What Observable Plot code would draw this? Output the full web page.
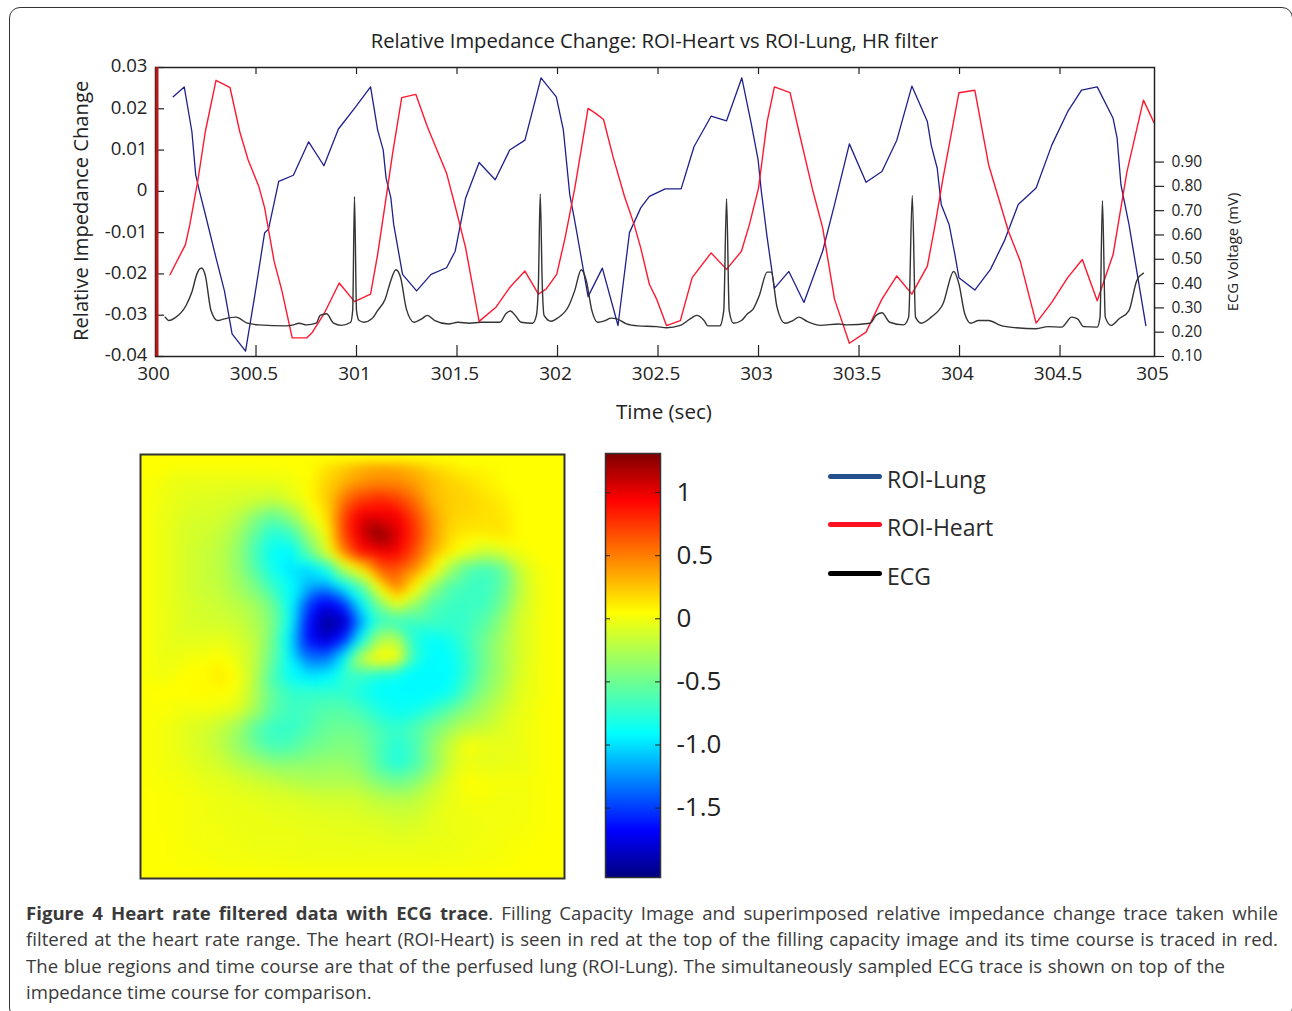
<!DOCTYPE html>
<html><head><meta charset="utf-8">
<script src="https://cdn.jsdelivr.net/npm/d3@7"></script>
<script src="https://cdn.jsdelivr.net/npm/@observablehq/plot@0.6"></script>
<style>
html,body{margin:0;padding:0;background:#fff;}
#page{position:relative;width:1292px;height:1011px;overflow:hidden;font-family:"Open Sans",sans-serif;color:#222;}
#card{position:absolute;left:9px;top:7px;width:1284px;height:1012px;border:1.5px solid #333;border-radius:11px;box-sizing:border-box;}
.abs{position:absolute;white-space:nowrap;}
#page svg{position:absolute;overflow:visible;background:transparent;}
.cap{position:absolute;left:26px;width:1252px;font-size:18.6px;line-height:26px;color:#3a3a3a;white-space:normal;}
.just{text-align:justify;text-align-last:justify;}
.leg{position:absolute;left:828px;width:54px;height:4.5px;border-radius:2.5px;}
.legt{position:absolute;left:887px;font-size:23px;line-height:26px;white-space:nowrap;color:#2a2a2a;}
</style></head><body><div id="page"><div id="card"></div></div>
<script>
// Time axis (sec), Relative Impedance Change
const lungTime=[300.088,300.143,300.181,300.200,300.219,300.248,300.301,300.343,300.381,300.448,300.495,300.543,300.562,300.613,300.686,300.762,300.838,300.910,300.990,301.070,301.105,301.133,301.147,301.171,301.185,301.229,301.299,301.371,301.448,301.491,301.543,301.610,301.690,301.762,301.838,301.918,301.994,302.029,302.061,302.086,302.152,302.223,302.301,302.358,302.414,302.457,302.536,302.615,302.679,302.764,302.841,302.917,302.965,302.998,303.014,303.043,303.079,303.151,303.226,303.319,303.378,303.452,303.535,303.614,303.688,303.763,303.840,303.859,303.889,303.909,303.948,303.977,303.997,304.076,304.154,304.223,304.292,304.381,304.459,304.538,304.607,304.685,304.764,304.784,304.803,304.843,304.927];
const lungValue=[.0229,.0253,.0145,.0040,0,-.0056,-.0161,-.0241,-.0345,-.0387,-.0249,-.0100,-.0092,.0024,.0039,.0120,.0062,.0151,.0201,.0253,.0149,.0100,.0032,-.0016,-.0080,-.0201,-.0241,-.0201,-.0185,-.0145,-.0016,.0070,.0028,.0100,.0124,.0275,.0229,.0149,-.0008,-.0072,-.0255,-.0186,-.0325,-.0100,-.0040,-.0012,.0006,.0006,.0108,.0182,.0171,.0275,.0161,.0076,0,-.0112,-.0235,-.0194,-.0269,-.0145,-.0032,.0115,.0022,.0048,.0124,.0255,.0169,.0112,.0056,-.0032,-.0080,-.0153,-.0209,-.0239,-.0189,-.0120,-.0032,.0008,.0112,.0193,.0245,.0253,.0177,.0129,.0016,-.0080,-.0325];
const heartTime=[300.072,300.149,300.171,300.210,300.248,300.301,300.333,300.371,300.419,300.461,300.514,300.543,300.590,300.629,300.680,300.752,300.781,300.838,300.914,300.990,301.070,301.105,301.152,301.181,301.225,301.295,301.352,301.448,301.491,301.543,301.610,301.695,301.762,301.838,301.905,301.943,301.996,302.038,302.086,302.152,302.190,302.229,302.276,302.333,302.381,302.414,302.457,302.493,302.542,302.611,302.670,302.764,302.841,302.915,302.955,303.000,303.043,303.079,303.157,303.201,303.269,303.319,303.378,303.452,303.535,303.614,303.688,303.763,303.840,303.879,303.918,303.997,304.076,304.145,304.194,304.243,304.302,304.381,304.459,304.538,304.611,304.685,304.764,304.833,304.915,304.967];
const heartValue=[-.0202,-.0129,-.0080,.0024,.0145,.0269,.0261,.0251,.0145,.0076,.0012,-.0040,-.0169,-.0241,-.0355,-.0355,-.0341,-.0297,-.0222,-.0267,-.0249,-.0153,0,.0096,.0227,.0235,.0157,.0044,-.0036,-.0137,-.0315,-.0280,-.0233,-.0193,-.0249,-.0237,-.0201,-.0112,.0008,.0201,.0189,.0174,.0084,-.0012,-.0080,-.0137,-.0225,-.0261,-.0325,-.0313,-.0209,-.0149,-.0189,-.0145,-.0080,.0008,.0169,.0253,.0239,.0145,.0004,-.0088,-.0261,-.0368,-.0341,-.0261,-.0205,-.0249,-.0181,-.0080,.0032,.0239,.0245,.0064,-.0016,-.0096,-.0169,-.0319,-.0269,-.0209,-.0165,-.0265,-.0153,.0048,.0221,.0167];
const ecgTime=[300.048,300.067,300.095,300.152,300.181,300.206,300.229,300.248,300.276,300.309,300.343,300.400,300.457,300.514,300.648,300.686,300.714,300.752,300.800,300.819,300.851,300.886,300.924,300.971,300.981,300.990,301.000,301.013,301.038,301.076,301.105,301.143,301.171,301.196,301.219,301.248,301.286,301.324,301.352,301.390,301.457,301.505,301.562,301.619,301.714,301.743,301.766,301.790,301.819,301.876,301.895,301.905,301.914,301.924,301.933,301.968,302.000,302.057,302.086,302.118,302.143,302.171,302.200,302.238,302.267,302.295,302.343,302.400,302.493,302.542,302.611,302.660,302.693,302.729,302.748,302.807,302.827,302.841,302.854,302.876,302.915,302.945,302.974,303.004,303.043,303.063,303.092,303.132,303.171,303.201,303.240,303.309,303.397,303.437,303.555,303.584,303.614,303.653,303.722,303.747,303.765,303.781,303.810,303.859,303.918,303.971,303.997,304.026,304.056,304.095,304.145,304.204,304.282,304.381,304.440,304.508,304.558,304.587,304.617,304.685,304.699,304.711,304.725,304.754,304.794,304.843,304.882,304.915];
const ecgVolt=[.262,.248,.258,.310,.365,.440,.464,.433,.289,.248,.255,.262,.237,.230,.226,.230,.237,.230,.237,.269,.276,.237,.228,.241,.289,.758,.289,.248,.241,.255,.289,.337,.413,.457,.426,.296,.241,.255,.269,.248,.234,.241,.237,.241,.241,.276,.287,.269,.241,.237,.269,.399,.769,.399,.269,.245,.258,.310,.372,.457,.413,.289,.241,.248,.258,.255,.234,.226,.223,.218,.228,.255,.269,.248,.226,.226,.289,.749,.289,.237,.248,.276,.296,.351,.447,.447,.303,.237,.248,.262,.245,.228,.234,.230,.237,.269,.280,.241,.230,.262,.763,.262,.237,.262,.317,.450,.399,.276,.237,.248,.248,.228,.218,.214,.223,.221,.262,.255,.223,.221,.262,.742,.262,.228,.255,.289,.413,.443];
const timeEnd=304.97;
const timeTicks=[300,300.5,301,301.5,302,302.5,303,303.5,304,304.5,timeEnd];
const timeLabels=["300","300.5","301","301.5","302","302.5","303","303.5","304","304.5","305"];
const impedanceTicks=[.03,.02,.01,0,-.01,-.02,-.03,-.04];
const impedanceLabels=["0.03","0.02","0.01","0","-0.01","-0.02","-0.03","-0.04"];
const ecgTicks=[.1,.2,.3,.4,.5,.6,.7,.8,.9];
const colorTicks=[1,.5,0,-.5,-1,-1.5];
const colorLabels=["1","0.5","0","-0.5","-1.0","-1.5"];
const jetDomain=[-2.05,-1.68,-.91,.05,.94,1.31];
const jetColors=["#00007f","#0000ff","#00ffff","#ffff00","#ff0000","#7f0000"];
// Filling capacity image, 24 x 24 samples, top row first
const capacityGrid=[
[.05,.05,.05,.05,.05,.05,.05,.05,.05,.05,.12,.2,.3,.35,.33,.25,.15,.1,.05,.05,.05,.05,.05,.05],
[.04,0,-.03,-.03,-.03,-.03,-.03,-.02,0,.05,.2,.3,.4,.45,.45,.38,.28,.2,.15,.1,.05,.05,.05,.05],
[.03,-.02,-.05,-.07,-.08,-.1,-.12,-.15,-.05,.05,.22,.52,.72,.8,.72,.55,.3,.22,.2,.15,.1,.05,.05,.05],
[.02,-.03,-.08,-.1,-.12,-.2,-.4,-.55,-.35,-.05,.15,.7,1,1,.98,.72,.4,.22,.18,.15,.14,.05,.05,.05],
[.02,-.03,-.1,-.12,-.17,-.3,-.55,-.8,-.7,-.3,.02,.7,1.05,1.3,1.05,.78,.42,.18,.12,.12,.14,.05,.05,.05],
[.02,-.03,-.1,-.15,-.2,-.35,-.65,-.9,-.95,-.55,-.1,.5,.92,.98,.95,.68,.33,.12,-.02,-.15,-.1,0,.05,.05],
[.02,-.03,-.1,-.15,-.2,-.35,-.6,-.85,-1,-1.05,-.85,-.25,.12,.6,.65,.45,.12,-.3,-.6,-.68,-.55,-.15,0,.05],
[.02,-.03,-.1,-.15,-.18,-.3,-.45,-.7,-.9,-1.15,-1.25,-.95,-.6,.05,.5,.1,-.35,-.62,-.68,-.7,-.55,-.2,0,.05],
[.02,-.03,-.08,-.12,-.15,-.2,-.3,-.5,-.9,-1.5,-1.75,-1.55,-.95,-.45,-.05,-.35,-.62,-.68,-.7,-.68,-.48,-.15,0,.05],
[.02,-.03,-.08,-.1,-.12,-.15,-.25,-.45,-.9,-1.65,-2,-1.9,-1.2,-.7,-.7,-.68,-.68,-.72,-.7,-.58,-.35,-.1,0,.05],
[.02,-.03,-.05,-.05,-.03,-.1,-.2,-.5,-1,-1.65,-1.85,-1.55,-.85,-.25,-.2,-.78,-.9,-.85,-.68,-.48,-.28,-.1,0,.05],
[.02,-.02,0,.02,.05,-.03,-.2,-.55,-.95,-1.35,-1.35,-.95,-.2,.12,.08,-.72,-.92,-.9,-.72,-.48,-.28,-.1,0,.05],
[.02,0,.05,.06,.12,.03,-.22,-.65,-.9,-1,-.95,-.75,-.72,-.82,-.85,-.92,-.92,-.92,-.72,-.45,-.28,-.08,0,.05],
[.04,.05,.05,.06,.06,0,-.25,-.55,-.72,-.72,-.72,-.72,-.82,-.92,-.92,-.92,-.92,-.85,-.6,-.38,-.22,-.05,0,.05],
[.04,.03,0,0,-.02,-.08,-.3,-.58,-.68,-.66,-.6,-.58,-.66,-.8,-.88,-.85,-.72,-.55,-.38,-.26,-.12,-.03,.02,.05],
[.03,0,-.05,-.1,-.17,-.32,-.58,-.72,-.72,-.62,-.52,-.5,-.52,-.65,-.72,-.62,-.46,-.32,-.2,-.15,-.08,-.02,.02,.05],
[.03,0,-.05,-.1,-.2,-.35,-.52,-.65,-.62,-.5,-.46,-.42,-.46,-.62,-.78,-.65,-.38,-.15,.03,-.02,-.03,-.02,.02,.05],
[.03,0,-.03,-.08,-.13,-.22,-.3,-.38,-.38,-.37,-.34,-.34,-.4,-.62,-.8,-.65,-.4,-.12,-.02,-.05,-.03,-.02,.02,.05],
[.04,.02,0,-.03,-.05,-.09,-.13,-.17,-.22,-.25,-.25,-.25,-.28,-.42,-.5,-.42,-.22,-.05,.05,.03,.02,.02,.03,.05],
[.05,.03,.02,0,-.02,-.03,-.05,-.07,-.08,-.1,-.12,-.12,-.13,-.2,-.22,-.2,-.12,-.03,.02,.02,0,0,.03,.05],
[.05,.03,.02,0,-.01,-.02,-.02,-.03,-.04,-.05,-.06,-.06,-.08,-.1,-.13,-.12,-.06,-.02,-.01,0,0,.01,.03,.05],
[.05,.04,.02,0,0,-.01,-.02,-.02,-.02,-.03,-.03,-.04,-.04,-.05,-.07,-.06,-.04,-.02,-.01,0,.01,.02,.04,.05],
[.05,.04,.03,.02,0,0,-.01,-.01,-.01,-.02,-.02,-.02,-.02,-.02,-.02,-.02,-.02,-.01,0,.01,.02,.04,.05,.05],
[.05,.05,.04,.04,.03,.02,.02,.02,.01,.01,.01,.01,.01,.01,.01,.01,.01,.02,.02,.03,.04,.05,.05,.05]
];
const legendNames=["ROI-Lung","ROI-Heart","ECG"];
const legendColors=["#25508c","#ff1020","#000000"];

const page=document.getElementById("page");
const INK="#222";
const FONT='"Open Sans",sans-serif';
function place(svg,left,top){svg.style.left=left+"px";svg.style.top=top+"px";page.appendChild(svg);return svg;}
function html(cls,style,text){const d=document.createElement("div");d.className=cls;d.style.cssText=style;d.innerHTML=text;page.appendChild(d);return d;}

// Main chart
const chartH=400, mT=67, mB=44, mL=155, mR=1292-1154;
const innerH=chartH-mT-mB;
const lines=Plot.plot({
  width:1292,height:chartH,marginTop:mT,marginBottom:mB,marginLeft:mL,marginRight:mR,
  style:{background:"transparent",fontFamily:FONT,color:INK},
  x:{domain:[300,timeEnd],label:null},y:{domain:[-.04,.03],label:null},
  marks:[
    Plot.line(lungTime.map((t,i)=>[t,lungValue[i]]),{x:"0",y:"1",stroke:"#20208c",strokeWidth:1.3}),
    Plot.line(heartTime.map((t,i)=>[t,heartValue[i]]),{x:"0",y:"1",stroke:"#ff1830",strokeWidth:1.4}),
    Plot.tickX(timeTicks.slice(1,-1),{x:d=>d,insetBottom:innerH-7,stroke:INK,strokeWidth:1.2}),
    Plot.tickX(timeTicks.slice(1,-1),{x:d=>d,insetTop:innerH-11,stroke:INK,strokeWidth:1.2}),
    Plot.tickY(impedanceTicks,{y:d=>d,insetRight:1154-155-9,stroke:INK,strokeWidth:1.2}),
    Plot.axisX({ticks:timeTicks,tickSize:0,tickPadding:10,fontSize:19,dx:-2,label:null,tickFormat:(d)=>timeLabels[timeTicks.indexOf(d)]}),
    Plot.axisY({ticks:impedanceTicks,tickSize:0,tickPadding:8,fontSize:18.6,dy:-1,label:null,tickFormat:(d)=>impedanceLabels[impedanceTicks.indexOf(d)]}),
    Plot.frame({stroke:INK,strokeWidth:1.5}),
    Plot.ruleX([300],{stroke:"#b81818",strokeWidth:3,dx:1.5})
  ]
});
place(lines,0,0);
const ecg=Plot.plot({
  width:1292,height:chartH,marginTop:mT,marginBottom:mB,marginLeft:mL,marginRight:mR,
  style:{background:"transparent",fontFamily:FONT,color:INK},
  x:{domain:[300,timeEnd],axis:null,label:null},y:{domain:[.1,1.289],label:null},
  marks:[
    Plot.line(ecgTime.map((t,i)=>[t,ecgVolt[i]]),{x:"0",y:"1",stroke:"#333",strokeWidth:1.4,curve:"monotone-x"}),
    Plot.axisY({anchor:"right",ticks:ecgTicks,tickSize:9,tickPadding:8,fontSize:15.5,label:null,tickFormat:d3.format(".2f"),strokeWidth:1.2})
  ]
});
place(ecg,0,0);

html("abs","left:0;width:1309px;text-align:center;top:28px;font-size:20.2px;line-height:25px;color:#222;","Relative Impedance Change: ROI-Heart vs ROI-Lung, HR filter");
html("abs","left:564px;width:200px;text-align:center;top:398px;font-size:20.6px;line-height:26px;","Time (sec)");
html("abs","left:-50px;width:260px;text-align:center;top:198px;font-size:20.2px;line-height:26px;transform:rotate(-90deg);","Relative Impedance Change");
html("abs","left:1132px;width:200px;text-align:center;top:243px;font-size:14.8px;line-height:18px;transform:rotate(-90deg);","ECG Voltage (mV)");

// Heat map
const cells=capacityGrid.flatMap((row,r)=>row.map((v,c)=>({c:c+.5,r:r+.5,v})));
const colorOpts={type:"linear",domain:jetDomain,range:jetColors,interpolate:"rgb"};
const heat=Plot.plot({
  width:424,height:424,margin:0,
  style:{background:"transparent"},
  x:{domain:[0,24],axis:null},y:{domain:[24,0],axis:null},color:colorOpts,
  marks:[
    Plot.raster(cells,{x:"c",y:"r",fill:"v",x1:0,x2:24,y1:0,y2:24,interpolate:"barycentric",pixelSize:2,blur:2}),
    Plot.frame({stroke:"#333",strokeWidth:2})
  ]
});
place(heat,139.5,453.5);

// Colour bar
const bar=Plot.plot({
  width:140,height:424,marginLeft:0,marginRight:85,marginTop:0,marginBottom:0,
  style:{background:"transparent",fontFamily:FONT,color:INK},
  x:{domain:[0,1],axis:null},y:{domain:[jetDomain[0],jetDomain[5]]},color:colorOpts,
  marks:[
    Plot.raster({fill:(x,y)=>y,x1:0,x2:1,y1:jetDomain[0],y2:jetDomain[5],pixelSize:1}),
    Plot.tickY(colorTicks,{y:d=>d,insetRight:50,stroke:INK,strokeWidth:1}),
    Plot.tickY(colorTicks,{y:d=>d,insetLeft:50,stroke:INK,strokeWidth:1}),
    Plot.axisY({anchor:"right",ticks:colorTicks,tickSize:0,tickPadding:16,fontSize:26,label:null,textAnchor:"start",tickFormat:d=>colorLabels[colorTicks.indexOf(d)]}),
    Plot.frame({stroke:"#333",strokeWidth:1.5})
  ]
});
place(bar,605,453);

// Legend
const legendY=[476,524,573];
legendNames.forEach((n,i)=>{
  html("leg",`top:${legendY[i]-2}px;background:${legendColors[i]};`,"");
  html("legt",`top:${legendY[i]-10}px;`,n);
});

// Caption
html("cap just","top:900px;",'<b>Figure 4 Heart rate filtered data with ECG trace</b>. Filling Capacity Image and superimposed relative impedance change trace taken while');
html("cap just","top:926px;",'filtered at the heart rate range. The heart (ROI-Heart) is seen in red at the top of the filling capacity image and its time course is traced in red.');
html("cap just","top:952.5px;width:1199px;",'The blue regions and time course are that of the perfused lung (ROI-Lung). The simultaneously sampled ECG trace is shown on top of the');
html("cap","top:979px;",'impedance time course for comparison.');
</script></body></html>
